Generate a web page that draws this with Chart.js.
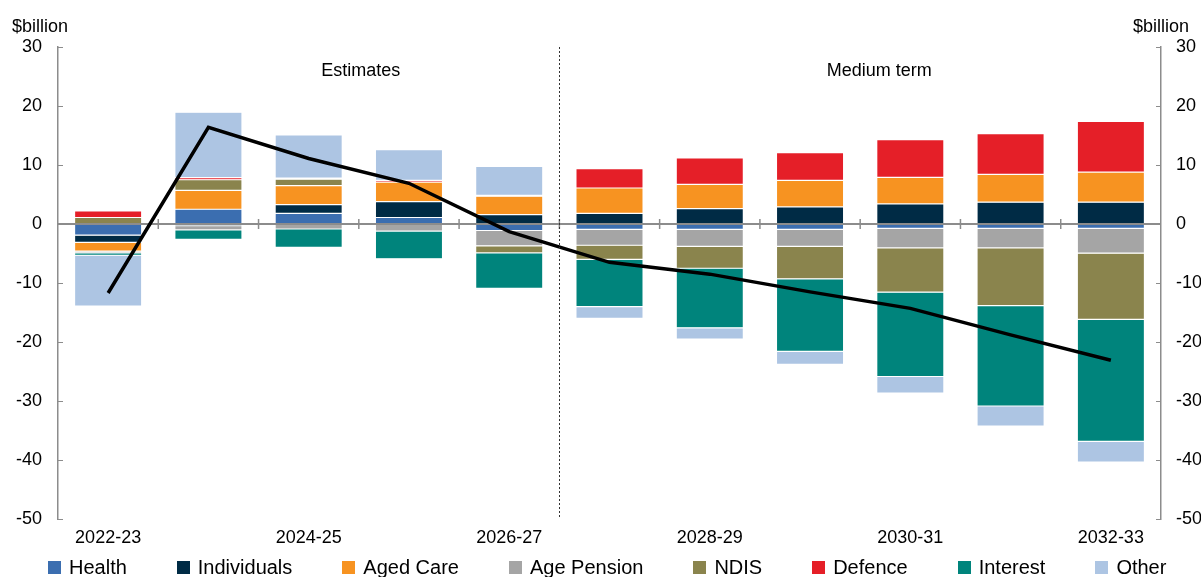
<!DOCTYPE html>
<html>
<head>
<meta charset="utf-8">
<script src="https://cdn.jsdelivr.net/npm/chart.js@4.4.1/dist/chart.umd.min.js"></script>
<style>
    body { margin: 0; background: #fff; }
    #wrap { position: relative; width: 1201px; height: 577px; }
    #legend {
        position: absolute; left: 0; top: 555px; width: 1201px; height: 24px;
        display: flex; align-items: center; padding-left: 48px; gap: 50px;
        font: 20px "Liberation Sans", Arial, sans-serif; color: #000; box-sizing: border-box;
    }
    #legend .item { display: flex; align-items: center; white-space: nowrap; }
    #legend .box { width: 13px; height: 13px; margin-right: 8px; }
</style>
</head>
<body>
<div id="wrap">
    <canvas id="myChart"></canvas>
    <div id="legend"></div>
</div>
<script>
"use strict"

const categories = ["2022-23", "2023-24", "2024-25", "2025-26", "2026-27", "2027-28",
    "2028-29", "2029-30", "2030-31", "2031-32", "2032-33"];

const health      = [-1.9, 2.5, 1.8, 1.1, -1.1, -0.9, -0.9, -0.9, -0.75, -0.75, -0.75];
const individuals = [-1.2, -0.3, 1.5, 2.7, 1.6, 1.8, 2.6, 2.9, 3.4, 3.7, 3.7];
const agedCare    = [-1.5, 3.2, 3.2, 3.3, 3.1, 4.3, 4.1, 4.5, 4.5, 4.7, 5.1];
const agePension  = [-0.3, -0.7, -0.85, -1.2, -2.6, -2.7, -2.9, -2.9, -3.3, -3.3, -4.2];
const ndis        = [1.1, 1.8, 1.1, 0, -1.2, -2.4, -3.7, -5.5, -7.5, -9.8, -11.2];
const defence     = [1.1, 0.35, 0.2, 0.3, 0.15, 3.3, 4.5, 4.7, 6.4, 6.9, 8.6];
const interest    = [-0.4, -1.6, -3.1, -4.7, -6.0, -8.0, -10.1, -12.3, -14.3, -17.0, -20.7];
const other       = [-8.6, 11.1, 7.3, 5.2, 4.9, -2.0, -1.9, -2.2, -2.8, -3.4, -3.5];
const total       = [-11.7, 16.4, 11.1, 6.9, -1.3, -6.5, -8.5, -11.5, -14.3, -18.8, -23.1];

const yTicks = [30, 20, 10, 0, -10, -20, -30, -40, -50];
const xLabelsShown = ["2022-23", "2024-25", "2026-27", "2028-29", "2030-31", "2032-33"];

const series = [
    { label: "Health", data: health, color: "#3b6eb0" },
    { label: "Individuals", data: individuals, color: "#002b45" },
    { label: "Aged Care", data: agedCare, color: "#f79321" },
    { label: "Age Pension", data: agePension, color: "#a5a5a5" },
    { label: "NDIS", data: ndis, color: "#8a844d" },
    { label: "Defence", data: defence, color: "#e51f28" },
    { label: "Interest", data: interest, color: "#00847c" },
    { label: "Other", data: other, color: "#adc5e3" }
];

const FONT = "\"Liberation Sans\", Arial, sans-serif";
Chart.defaults.font.family = FONT;
Chart.defaults.color = "#000";

// axis line at zero, category tick marks, inner y ticks, divider and headings
const decor = {
    id: "decor",
    beforeDatasetDraw(chart, args) {
        if (args.index !== series.length) return;
        const { ctx, chartArea: a, scales: { x, y } } = chart;
        const y0 = y.getPixelForValue(0);
        ctx.save();
        ctx.strokeStyle = "#8c8c8c";
        ctx.lineWidth = 2;
        ctx.beginPath();
        ctx.moveTo(a.left, y0);
        ctx.lineTo(a.right, y0);
        ctx.stroke();
        ctx.lineWidth = 1.5;
        for (let i = 1; i < categories.length; i++) {
            const xb = (x.getPixelForValue(i - 1) + x.getPixelForValue(i)) / 2;
            ctx.beginPath();
            ctx.moveTo(xb, y0 - 5);
            ctx.lineTo(xb, y0 + 5);
            ctx.stroke();
        }
        ctx.restore();
    },
    afterDraw(chart) {
        const { ctx, chartArea: a, scales: { x, y } } = chart;
        ctx.save();
        ctx.strokeStyle = "#8c8c8c";
        ctx.lineWidth = 1;
        yTicks.forEach(v => {
            const py = Math.round(y.getPixelForValue(v)) + 0.5;
            ctx.beginPath();
            ctx.moveTo(a.left, py);
            ctx.lineTo(a.left + 5, py);
            ctx.moveTo(a.right - 5, py);
            ctx.lineTo(a.right, py);
            ctx.stroke();
        });

        const xd = Math.round((x.getPixelForValue(4) + x.getPixelForValue(5)) / 2) + 0.5;
        ctx.strokeStyle = "#333";
        ctx.setLineDash([2, 2]);
        ctx.beginPath();
        ctx.moveTo(xd, a.top);
        ctx.lineTo(xd, a.bottom);
        ctx.stroke();
        ctx.setLineDash([]);

        ctx.fillStyle = "#000";
        ctx.font = "18px " + FONT;
        ctx.textBaseline = "middle";
        ctx.textAlign = "center";
        ctx.fillText("Estimates", x.getPixelForValue(2.52), y.getPixelForValue(26));
        ctx.fillText("Medium term", x.getPixelForValue(7.69), y.getPixelForValue(26));
        ctx.textAlign = "left";
        ctx.fillText("$billion", 12, a.top - 20);
        ctx.textAlign = "right";
        ctx.fillText("$billion", 1189, a.top - 20);
        ctx.restore();
    }
};

const datasets = series.map(s => ({
    type: "bar",
    label: s.label,
    data: s.data,
    backgroundColor: s.color,
    borderColor: "rgba(255,255,255,0.25)",
    borderWidth: 0.6,
    borderSkipped: false,
    barPercentage: 0.67,
    categoryPercentage: 1,
    order: 1
}));

datasets.push({
    type: "line",
    label: "Total",
    data: total,
    stack: "total",
    borderColor: "#000",
    borderWidth: 3.5,
    pointRadius: 0,
    tension: 0,
    fill: false,
    order: 0
});

new Chart(document.getElementById("myChart"), {
    data: { labels: categories, datasets: datasets },
    options: {
        responsive: true,
        maintainAspectRatio: false,
        animation: false,
        layout: { padding: { top: 47, left: 0, right: 0, bottom: 0 } },
        scales: {
            x: {
                stacked: true,
                grid: { display: false, drawTicks: false },
                border: { display: false },
                ticks: {
                    autoSkip: false,
                    maxRotation: 0,
                    padding: 8,
                    font: { size: 18 },
                    callback: function(value) {
                        const lbl = this.getLabelForValue(value);
                        return xLabelsShown.includes(lbl) ? lbl : "";
                    }
                },
                afterFit: (scale) => { scale.height = 58; }
            },
            y: {
                stacked: true,
                min: -50,
                max: 30,
                position: "left",
                grid: { display: false, drawTicks: false },
                border: { display: true, color: "#8c8c8c", width: 1.5 },
                ticks: { stepSize: 10, padding: 16, font: { size: 18 } },
                afterFit: (scale) => { scale.width = 58; }
            },
            y2: {
                min: -50,
                max: 30,
                position: "right",
                grid: { display: false, drawTicks: false },
                border: { display: true, color: "#8c8c8c", width: 1.5 },
                ticks: { stepSize: 10, padding: 15, font: { size: 18 } },
                afterFit: (scale) => { scale.width = 40; }
            }
        },
        plugins: {
            legend: { display: false },
            tooltip: { enabled: false }
        }
    },
    plugins: [decor]
});

const legend = document.getElementById("legend");
series.forEach(s => {
    const item = document.createElement("div");
    item.className = "item";
    item.innerHTML = `<span class="box" style="background:${s.color}"></span>${s.label}`;
    legend.appendChild(item);
});
</script>
</body>
</html>
